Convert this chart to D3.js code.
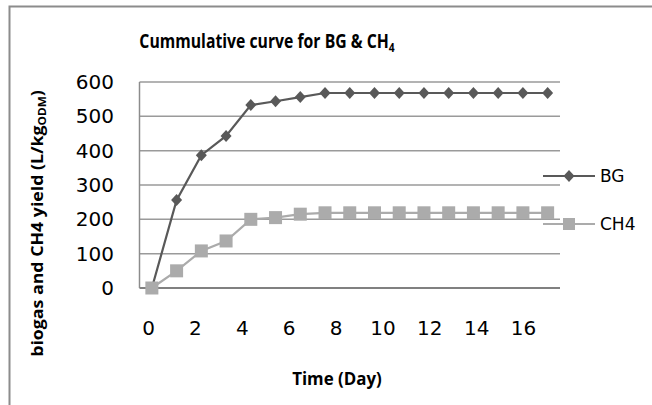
<!DOCTYPE html>
<html>
<head>
<meta charset="utf-8">
<script src="https://cdn.jsdelivr.net/npm/d3@7"></script>
<style>
  body { margin: 0; background: #fff; }
  text { font-family: "Open Sans", sans-serif; fill: #000; }
</style>
</head>
<body>
<svg width="652" height="405"></svg>
<script>
const days = [0, 1, 2, 3, 4, 5, 6, 7, 8, 9, 10, 11, 12, 13, 14, 15, 16];
const bg = [0, 256, 387, 443, 533, 544, 556, 568, 568, 568, 568, 568, 568, 568, 568, 568, 568];
const ch4 = [0, 50, 108, 137, 200, 205, 215, 219, 219, 219, 219, 219, 219, 219, 219, 219, 219];
const yTicks = [0, 100, 200, 300, 400, 500, 600];
const xTicks = [0, 2, 4, 6, 8, 10, 12, 14, 16];

const svg = d3.select('svg');

// outer chart frame (only top and left edges fall inside the picture)
svg.append('path')
  .attr('d', 'M9.5,410 V6.5 H660')
  .attr('fill', 'none')
  .attr('stroke', '#8c8c8c')
  .attr('stroke-width', 2);

const plot = {left: 139.5, right: 560, top: 82, bottom: 288};

const x = d3.scaleBand().domain(days).range([plot.left, plot.right]);
const xc = d => x(d) + x.bandwidth() / 2;
const y = d3.scaleLinear().domain([0, 600]).range([plot.bottom, plot.top]);
// tick labels sit on their own spacing in the reference
const xLab = d3.scaleLinear().domain([0, 16]).range([148, 523]);

const g = svg.append('g');

// gridlines
g.selectAll('line.grid')
  .data(yTicks)
  .join('line')
  .attr('class', 'grid')
  .attr('x1', plot.left).attr('x2', plot.right)
  .attr('y1', d => y(d)).attr('y2', d => y(d))
  .attr('stroke', d => d === 0 ? '#808080' : '#9a9a9a')
  .attr('stroke-width', d => d === 0 ? 2 : 1.5);

g.append('line')
  .attr('x1', plot.left).attr('x2', plot.left)
  .attr('y1', plot.top).attr('y2', plot.bottom)
  .attr('stroke', '#8c8c8c').attr('stroke-width', 1.5);

const tickFont = '"DejaVu Sans", sans-serif';

// y axis labels
const yAxis = svg.append('g')
  .attr('transform', 'translate(114,0)')
  .call(d3.axisLeft(y).tickValues(yTicks).tickSize(0).tickPadding(0));
yAxis.select('.domain').remove();
yAxis.selectAll('text')
  .style('font-size', '20px')
  .style('font-family', tickFont)
  .style('fill', '#000');

// x axis labels
const xAxis = svg.append('g')
  .attr('transform', 'translate(0,321)')
  .call(d3.axisBottom(xLab).tickValues(xTicks).tickSize(0).tickPadding(0));
xAxis.select('.domain').remove();
xAxis.selectAll('text')
  .style('font-size', '20px')
  .style('font-family', tickFont)
  .style('fill', '#000');

const line = d3.line().x((d, i) => xc(days[i])).y(d => y(d));

// BG series
g.append('path')
  .datum(bg)
  .attr('d', line)
  .attr('fill', 'none')
  .attr('stroke', '#595959')
  .attr('stroke-width', 2.2);
const diamond = 'M0,-6 L5.5,0 L0,6 L-5.5,0 Z';
g.selectAll('path.bgm')
  .data(bg)
  .join('path')
  .attr('class', 'bgm')
  .attr('d', diamond)
  .attr('transform', (d, i) => `translate(${xc(days[i])},${y(d)})`)
  .attr('fill', '#595959');

// CH4 series
g.append('path')
  .datum(ch4)
  .attr('d', line)
  .attr('fill', 'none')
  .attr('stroke', '#ababab')
  .attr('stroke-width', 2.2);
g.selectAll('rect.chm')
  .data(ch4)
  .join('rect')
  .attr('class', 'chm')
  .attr('x', (d, i) => xc(days[i]) - 6.5)
  .attr('y', d => y(d) - 6.5)
  .attr('width', 13).attr('height', 13)
  .attr('fill', '#ababab');

// legend
const legend = svg.append('g');
const lg1 = legend.append('g').attr('transform', 'translate(543,176)');
lg1.append('line').attr('x1', 0).attr('x2', 52).attr('stroke', '#595959').attr('stroke-width', 2.2);
lg1.append('path').attr('d', diamond).attr('transform', 'translate(26,0)').attr('fill', '#595959');
lg1.append('text').attr('x', 57).attr('dy', '0.36em').style('font-size', '17px').style('font-family', tickFont).text('BG');
const lg2 = legend.append('g').attr('transform', 'translate(543,224)');
lg2.append('line').attr('x1', 0).attr('x2', 52).attr('stroke', '#ababab').attr('stroke-width', 2.2);
lg2.append('rect').attr('x', 20).attr('y', -6).attr('width', 12).attr('height', 12).attr('fill', '#ababab');
lg2.append('text').attr('x', 57).attr('dy', '0.36em').style('font-size', '17px').style('font-family', tickFont).text('CH4');

// squeeze or stretch a text along its own direction to a given length
function fit(sel, len, base) {
  const w = sel.node().getBBox().width;
  sel.attr('transform', `${base} scale(${len / w},1)`);
}

// title
const title = svg.append('text')
  .attr('text-anchor', 'middle')
  .attr('font-size', 20)
  .attr('font-weight', 'bold');
title.append('tspan').text('Cummulative curve for BG & CH');
title.append('tspan').attr('font-size', 13).attr('dy', 4).text('4');
fit(title, 256, 'translate(267,48)');

// axis titles
const yTitle = svg.append('text')
  .attr('text-anchor', 'middle')
  .attr('font-size', 16.5)
  .attr('font-weight', 'bold');
yTitle.append('tspan').text('biogas and CH4 yield (L/kg');
yTitle.append('tspan').attr('font-size', 11).attr('dy', 3).text('ODM');
yTitle.append('tspan').attr('dy', -3).text(')');
fit(yTitle, 267, 'translate(43,223.5) rotate(-90)');

const xTitle = svg.append('text')
  .attr('text-anchor', 'middle')
  .attr('font-size', 17)
  .attr('font-weight', 'bold')
  .text('Time (Day)');
fit(xTitle, 90, 'translate(337,385)');
</script>
</body>
</html>
